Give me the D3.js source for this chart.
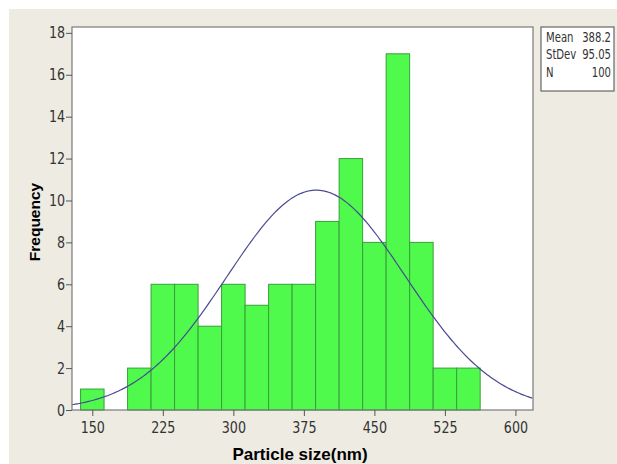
<!DOCTYPE html>
<html>
<head>
<meta charset="utf-8">
<script src="https://cdn.jsdelivr.net/npm/d3@7"></script>
<style>
  body { margin: 0; background: #ffffff; }
  svg text { font-family: "DejaVu Sans Condensed", "DejaVu Sans", sans-serif; font-stretch: condensed; }
  svg text.title { font-family: "Liberation Sans", Arial, sans-serif; font-stretch: normal; font-weight: bold; }
</style>
</head>
<body>
<svg id="chart" width="617" height="464"></svg>
<script>
// bins of 25 nm, given by their lower edges, and counts
var binStarts = [137.5, 162.5, 187.5, 212.5, 237.5, 262.5, 287.5, 312.5, 337.5,
                 362.5, 387.5, 412.5, 437.5, 462.5, 487.5, 512.5, 537.5];
var binCounts = [1, 0, 2, 6, 6, 4, 6, 5, 6, 6, 9, 12, 8, 17, 8, 2, 2];
var binWidth = 25;

var xTicks = [150, 225, 300, 375, 450, 525, 600];
var yTicks = [0, 2, 4, 6, 8, 10, 12, 14, 16, 18];

var statLabels = ["Mean", "StDev", "N"];
var statValues = ["388.2", "95.05", "100"];
var mean = 388.2, stdev = 95.05, n = 100;

var svg = d3.select("#chart");

// beige panel with a thin white margin top/left
svg.append("rect").attr("x", 9).attr("y", 9).attr("width", 608).attr("height", 455)
    .attr("fill", "#eeebe2");

var plot = { left: 72, right: 533, top: 27, bottom: 410 };

var x = d3.scaleLinear().domain([128.4, 618.7]).range([plot.left, plot.right]);
var y = d3.scaleLinear().domain([0, 18.28]).range([plot.bottom, plot.top]);

svg.append("rect")
    .attr("x", plot.left).attr("y", plot.top)
    .attr("width", plot.right - plot.left).attr("height", plot.bottom - plot.top)
    .attr("fill", "#ffffff");

svg.append("clipPath").attr("id", "clip").append("rect")
    .attr("x", plot.left).attr("y", plot.top)
    .attr("width", plot.right - plot.left).attr("height", plot.bottom - plot.top);

// histogram bars
var bins = binStarts.map((s, i) => ({ x0: s, x1: s + binWidth, count: binCounts[i] }))
    .filter(d => d.count > 0);

svg.append("g").selectAll("rect")
    .data(bins)
    .enter().append("rect")
    .attr("x", d => x(d.x0))
    .attr("y", d => y(d.count))
    .attr("width", d => x(d.x1) - x(d.x0))
    .attr("height", d => y(0) - y(d.count))
    .attr("fill", "#4ffa4c")
    .attr("stroke", "#3a9e3a")
    .attr("stroke-width", 1);

// fitted normal curve from the printed stats
var xs = d3.range(128, 620, 2);
var fit = xs.map(v => [v, n * binWidth / (stdev * Math.sqrt(2 * Math.PI)) *
    Math.exp(-0.5 * Math.pow((v - mean) / stdev, 2))]);

svg.append("path")
    .datum(fit)
    .attr("clip-path", "url(#clip)")
    .attr("fill", "none")
    .attr("stroke", "#4a4a94")
    .attr("stroke-width", 1.2)
    .attr("d", d3.line().x(d => x(d[0])).y(d => y(d[1])));

// frame
svg.append("rect")
    .attr("x", plot.left).attr("y", plot.top)
    .attr("width", plot.right - plot.left).attr("height", plot.bottom - plot.top)
    .attr("fill", "none").attr("stroke", "#7a7a7a").attr("stroke-width", 1.2);

// squeeze text horizontally, the original font is narrower
function squeeze(sel, k) {
    sel.each(function () {
        var w = this.getComputedTextLength();
        d3.select(this).attr("textLength", w * k).attr("lengthAdjust", "spacingAndGlyphs");
    });
}

// axes
var xAxis = svg.append("g")
    .attr("transform", "translate(0," + plot.bottom + ")")
    .call(d3.axisBottom(x).tickValues(xTicks).tickSize(6).tickPadding(6));
var yAxis = svg.append("g")
    .attr("transform", "translate(" + plot.left + ",0)")
    .call(d3.axisLeft(y).tickValues(yTicks).tickSize(6).tickPadding(1));

[xAxis, yAxis].forEach(function (a) {
    a.select(".domain").remove();
    a.selectAll("line").attr("stroke", "#555");
    a.selectAll("text").attr("fill", "#333").style("font-size", "16px")
        .call(squeeze, 0.88);
});

// axis titles
svg.append("text").attr("class", "title")
    .attr("x", 300).attr("y", 460)
    .attr("text-anchor", "middle")
    .style("font-size", "17px")
    .text("Particle size(nm)");

svg.append("text").attr("class", "title")
    .attr("transform", "translate(40,222) rotate(-90)")
    .attr("text-anchor", "middle")
    .style("font-size", "15.5px")
    .text("Frequency");

// stats box
var box = svg.append("g");
box.append("rect")
    .attr("x", 541).attr("y", 27).attr("width", 73).attr("height", 64)
    .attr("fill", "#ffffff").attr("stroke", "#666").attr("stroke-width", 1.2);

box.selectAll(".lab").data(statLabels).enter().append("text")
    .attr("x", 546).attr("y", (d, i) => 41.5 + i * 17.5)
    .style("font-size", "14px").attr("fill", "#333")
    .text(d => d)
    .call(squeeze, 0.8);

box.selectAll(".val").data(statValues).enter().append("text")
    .attr("x", 611).attr("y", (d, i) => 41.5 + i * 17.5)
    .attr("text-anchor", "end")
    .style("font-size", "14px").attr("fill", "#333")
    .text(d => d)
    .call(squeeze, 0.8);
</script>
</body>
</html>
